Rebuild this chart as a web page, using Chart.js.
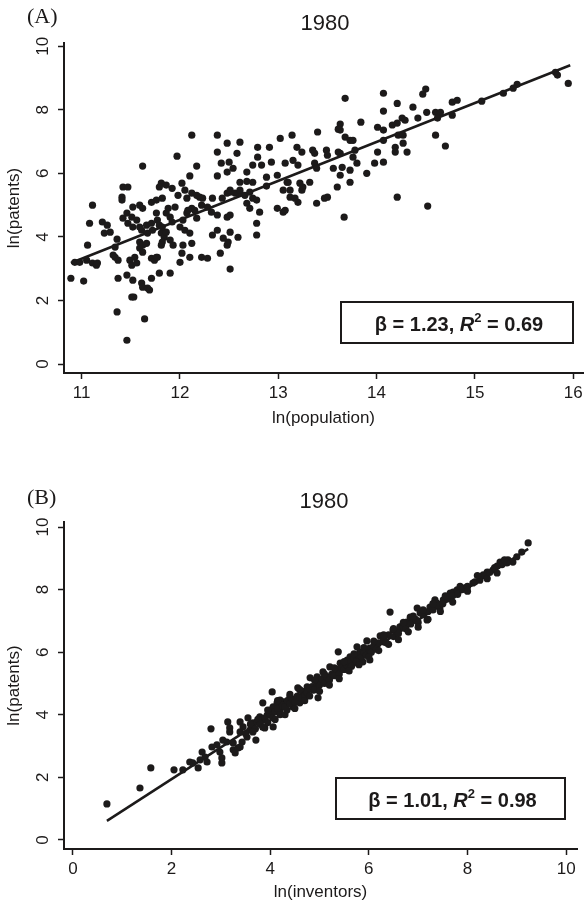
<!DOCTYPE html>
<html>
<head>
<meta charset="utf-8">
<script src="https://cdn.jsdelivr.net/npm/chart.js@4.4.1/dist/chart.umd.min.js"></script>
<style>
body { margin: 0; background: #fff; }
canvas { position: absolute; left: 0; }
#chartA { top: 0; }
#chartB { top: 453px; }
</style>
</head>
<body>
<canvas id="chartA" width="588" height="453"></canvas>
<canvas id="chartB" width="588" height="454"></canvas>
<script>
// panel A: ln(population) vs ln(patents), 1980
var popTicks = [11, 12, 13, 14, 15, 16];
var patentTicks = [0, 2, 4, 6, 8, 10];
var pointsA = [
  [12.12,7.2],[12.38,7.2],[12.48,6.95],[12.61,6.98],[12.38,6.67],[12.58,6.63],[11.97,6.54],[12.79,6.82],
  [12.79,6.51],[12.91,6.82],[13.02,7.1],[13.14,7.2],[13.19,6.82],[11.62,6.23],[12.17,6.23],[12.1,5.92],
  [12.38,5.92],[12.42,6.32],[12.5,6.35],[12.54,6.16],[12.48,6.04],[12.68,6.04],[12.74,6.26],[12.83,6.26],
  [12.93,6.35],[13.07,6.32],[13.15,6.41],[11.81,5.69],[11.92,5.53],[12.02,5.69],[11.42,5.57],[11.47,5.57],
  [11.41,5.25],[12.61,5.72],[12.68,5.75],[12.74,5.72],[12.88,5.88],[12.99,5.94],[13.09,5.72],[12.51,5.41],
  [12.61,5.38],[12.71,5.41],[12.12,5.38],[12.2,5.25],[12.33,5.22],
  [13.68,8.36],[14.07,8.52],[14.5,8.65],[14.47,8.49],[14.21,8.2],[14.07,7.96],[14.37,8.08],[14.51,7.92],
  [14.6,7.92],[14.65,7.92],[14.77,8.24],[14.82,8.3],[15.07,8.27],[15.29,8.52],[15.43,8.8],[15.39,8.68],
  [15.82,9.18],[15.84,9.09],[15.95,8.83],[13.63,7.55],[13.63,7.36],[13.84,7.61],[13.4,7.3],[13.61,7.39],
  [14.01,7.45],[14.07,7.36],[14.16,7.52],[14.21,7.58],[14.26,7.74],[14.29,7.67],[14.42,7.74],[14.62,7.74],
  [14.77,7.83],[14.6,7.2],[14.7,6.86],[13.68,7.14],[13.73,7.04],[13.76,7.04],[14.22,7.2],[14.27,7.2],
  [14.07,7.04],[14.19,6.82],[14.27,6.95],[14.31,6.67],[14.19,6.67],[13.24,6.67],[13.35,6.73],[13.37,6.63],
  [13.49,6.73],[13.5,6.57],[13.61,6.67],[13.63,6.63],[13.78,6.73],[13.76,6.51],[14.01,6.67],[13.2,6.26],
  [13.37,6.32],[13.39,6.16],[13.56,6.16],[13.65,6.19],[13.63,5.94],[13.73,6.1],[13.8,6.32],[13.73,5.72],
  [13.9,6.0],[13.98,6.32],[14.07,6.35],[13.1,5.72],[13.22,5.69],[13.24,5.47],[13.32,5.72],[13.6,5.57],
  [13.05,5.47],[13.5,5.25],[13.47,5.22],[14.21,5.25],[13.12,5.25],[13.2,5.09],[13.39,5.06],[13.05,4.78],
  [13.67,4.62],[14.52,4.97],[13.25,5.57],
  [10.89,2.7],[11.02,2.61],[11.06,3.74],[11.08,4.43],[11.11,5.0],[10.93,3.2],[10.98,3.2],[11.05,3.27],
  [11.11,3.18],[11.15,3.11],[11.16,3.18],[11.21,4.47],[11.26,4.37],[11.29,4.15],[11.23,4.12],[11.34,3.68],
  [11.34,3.36],[11.37,3.27],[11.32,3.43],[11.36,3.93],[11.37,2.7],[11.36,1.64],[11.46,0.75],[11.41,5.16],
  [11.46,4.75],[11.42,4.59],[11.47,4.43],[11.51,4.62],[11.52,4.31],[11.56,4.53],[11.49,3.27],[11.51,3.11],
  [11.54,3.36],[11.56,3.18],[11.46,2.8],[11.52,2.64],[11.51,2.11],[11.53,2.11],[11.61,2.55],[11.62,2.42],
  [11.67,2.39],[11.69,2.33],[11.64,1.42],[11.52,4.94],[11.59,5.0],[11.62,4.9],[11.59,4.31],[11.61,4.21],
  [11.66,4.37],[11.67,4.12],[11.71,4.43],[11.72,4.21],[11.59,3.84],[11.59,3.65],[11.62,3.74],[11.62,3.52],
  [11.66,3.8],[11.71,3.33],[11.74,3.27],[11.76,3.36],[11.71,2.7],[11.76,4.75],[11.77,4.53],[11.79,4.37],
  [11.81,4.12],[11.82,4.31],[11.84,3.99],[11.82,3.84],[11.81,3.74],[11.79,2.86],[11.77,3.36],[11.71,5.09],
  [11.76,5.16],[11.82,5.22],[11.79,5.57],[11.86,5.63],[11.86,4.75],[11.9,4.62],[11.88,4.9],[11.92,4.47],
  [11.95,4.94],[11.9,2.86],[11.86,4.15],[11.9,3.9],[11.93,3.74],[12.0,3.2],[12.02,3.49],[12.03,3.74],
  [12.0,4.31],[12.03,4.53],[12.05,4.21],[12.07,4.75],[11.98,5.31],[12.05,5.47],[12.07,5.22],[12.08,4.84],
  [12.12,4.9],[12.15,4.84],[12.17,4.59],[12.1,4.12],[12.12,3.8],[12.1,3.36],[12.17,5.31],[12.23,5.22],
  [12.22,5.0],[12.28,4.94],[12.32,4.78],[12.22,3.36],[12.28,3.33],[12.33,4.06],[12.38,4.21],[12.38,4.69],
  [12.41,3.49],[12.43,5.22],[12.48,5.38],[12.51,5.47],[12.56,5.38],[12.44,3.96],[12.48,3.74],[12.49,3.84],
  [12.51,4.15],[12.51,2.99],[12.48,4.62],[12.51,4.69],[12.59,3.99],[12.61,5.47],[12.66,5.31],[12.68,5.06],
  [12.71,4.9],[12.74,5.22],[12.78,5.16],[12.78,4.43],[12.78,4.06],[12.81,4.78],[12.88,5.6],[12.99,4.9],
  [13.07,4.84],[13.12,5.47],[13.17,5.22]
];
var fitA = [[10.89, 3.18], [15.97, 9.4]];
var statsA = { beta: '1.23', r2: '0.69' };

// panel B: ln(inventors) vs ln(patents), 1980
var invTicks = [0, 2, 4, 6, 8, 10];
var pointsB = [
  [0.69,1.15],[1.36,1.66],[1.58,2.3],[2.05,2.24],[2.23,2.24],[2.37,2.49],[2.43,2.46],[2.54,2.3],[2.58,2.56],
  [2.62,2.81],[2.68,2.65],[2.72,2.49],[2.8,3.55],[2.82,2.97],[2.92,3.04],[2.98,2.81],[3.02,2.62],[3.02,2.46],
  [3.04,3.19],[3.12,3.13],[3.14,3.77],[3.18,3.58],[3.18,3.45],[3.25,3.1],[3.25,2.88],[3.29,2.78],[3.35,2.94],
  [3.39,3.77],[3.39,3.45],[3.45,3.61],[3.53,3.29],[3.43,3.13],[3.39,2.97],[3.59,3.51],[3.65,3.74],[3.73,3.77],
  [3.79,3.93],[3.71,3.19],[3.85,3.83],[3.94,3.99],[4.0,4.15],[4.06,4.25],[3.85,4.38],[4.04,4.73],[3.89,3.58],
  [4.06,3.61],[4.14,4.38],[4.26,4.41],[4.4,4.57],[4.46,4.31],[4.56,4.86],[4.2,4.15],[4.34,4.15],
  [4.2,4.47],[4.34,4.38],[4.46,4.25],[4.6,4.38],[4.67,4.7],[4.75,4.89],[4.87,4.79],[4.95,5.02],[4.97,4.54],
  [5.07,5.11],[5.21,5.21],[5.31,5.34],[5.42,5.43],[5.56,5.5],[5.68,5.65],[5.82,5.75],[5.88,5.69],[6.02,5.75],
  [4.81,5.18],[4.95,5.21],[5.07,5.37],[5.21,5.53],[5.38,6.01],[5.42,5.65],[5.56,5.75],[5.62,5.85],[5.76,6.17],
  [5.82,6.01],[5.96,6.36],[6.02,6.13],[6.17,6.23],[6.23,6.52],[6.29,6.33],[6.43,7.28],[6.49,6.71],[6.57,6.61],
  [6.63,6.81],[6.69,6.87],[6.77,6.96],[6.84,7.12],[6.9,7.03],[6.98,7.41],[7.04,7.25],[7.1,7.28],[7.18,7.03],
  [7.24,7.44],[7.34,7.67],[7.38,7.57],[7.44,7.41],[7.51,7.67],[7.59,7.76],[7.65,7.89],[7.71,7.92],[7.79,7.99],
  [7.91,8.05],[7.99,8.08],[8.11,8.21],[8.26,8.4],[8.32,8.47],[8.4,8.56],[8.52,8.63],[8.6,8.53],[8.66,8.88],
  [8.72,8.85],[8.82,8.95],[8.92,8.88],[9.23,9.49],
  [3.6,3.7],[3.7,3.55],[3.75,3.85],[3.8,3.7],[3.9,3.9],[3.95,3.75],[4.0,4.0],[4.05,3.9],[4.1,4.1],[4.15,4.2],
  [4.2,4.0],[4.25,4.3],[4.3,4.25],[4.35,4.45],[4.4,4.35],[4.45,4.5],[4.5,4.4],[4.55,4.6],[4.6,4.55],[4.65,4.75],
  [4.7,4.6],[4.75,4.7],[4.8,4.85],[4.85,4.9],[4.9,4.8],[4.95,5.0],[5.0,4.95],[5.05,5.15],[5.1,5.0],[5.15,5.2],
  [5.2,5.1],[5.25,5.3],[5.3,5.25],[5.35,5.45],[5.4,5.3],[5.45,5.5],[5.5,5.45],[5.55,5.6],[5.6,5.7],[5.65,5.55],
  [5.7,5.8],[5.75,5.7],[5.8,5.9],[5.85,5.85],[5.9,6.0],[5.95,5.9],[6.0,6.1],[6.05,6.0],[6.1,6.2],[6.15,6.1],
  [6.2,6.3],[6.3,6.4],[6.35,6.3],[6.4,6.55],[6.5,6.5],[6.55,6.65],[6.6,6.6],[6.7,6.8],[6.75,6.75],[6.85,6.9],
  [6.95,7.05],[7.0,6.95],[7.1,7.2],[7.2,7.3],[7.3,7.35],[7.4,7.5],[7.5,7.55],[7.6,7.7],[7.7,7.8],[7.8,7.85],
  [7.9,8.0],[8.0,8.1],[8.15,8.25],[8.25,8.3],[8.35,8.45],[8.45,8.55],[8.55,8.7],[8.7,8.8],[8.8,8.85],[9.0,9.05],
  [9.1,9.2],
  [3.5,3.4],[3.55,3.9],[3.65,3.45],[3.85,3.6],[3.95,4.15],[4.1,3.85],[4.15,4.45],[4.3,4.0],[4.4,4.65],[4.5,4.2],
  [4.6,4.8],[4.7,4.45],[4.8,4.6],[4.9,5.1],[5.0,4.75],[5.1,5.3],[5.2,4.95],[5.3,5.5],[5.4,5.15],[5.5,5.7],
  [5.6,5.4],[5.7,5.95],[5.8,5.6],[5.9,6.15],[6.0,5.85],[6.1,6.35],[6.2,6.05],[6.3,6.55],[6.4,6.25],[6.5,6.75],
  [6.6,6.4],[6.7,6.95],[6.8,6.65],[6.9,7.15],[7.0,6.8],[7.1,7.35],[7.2,7.05],[7.3,7.55],[7.45,7.3],[7.55,7.8],
  [7.7,7.6],[7.85,8.1],[8.0,7.95],[8.2,8.45],[8.4,8.35],[8.6,8.75],[8.75,8.95]
];
var fitB = [[0.69, 0.61], [9.23, 9.3]];
var statsB = { beta: '1.01', r2: '0.98' };

var ink = '#1c1a1a';
var sans = '"Liberation Sans", Arial, Helvetica, sans-serif';
Chart.defaults.font.family = sans;
Chart.defaults.color = ink;

function toXY(list) {
  return list.map(function (p) { return { x: p[0], y: p[1] }; });
}

// letter, year, rotated y tick labels and the stats box
var decor = {
  id: 'decor',
  afterDraw: function (chart) {
    var o = chart.options.plugins.decor;
    var ctx = chart.ctx, area = chart.chartArea, ys = chart.scales.y;
    ctx.save();
    ctx.fillStyle = ink;
    ctx.textBaseline = 'alphabetic';

    ctx.font = '22px "Liberation Serif", "Times New Roman", serif';
    ctx.textAlign = 'left';
    ctx.fillText(o.letter, 27, o.letterY);

    ctx.font = '22px ' + sans;
    ctx.textAlign = 'center';
    ctx.fillText('1980', o.yearX, o.yearY);

    ctx.font = '17px ' + sans;
    ys.ticks.forEach(function (t) {
      var py = ys.getPixelForValue(t.value);
      ctx.save();
      ctx.translate(48, py);
      ctx.rotate(-Math.PI / 2);
      ctx.fillText(String(t.value), 0, 0);
      ctx.restore();
    });

    var bw = o.boxW, bh = 41;
    var bx = area.right - o.boxRight - bw, by = area.bottom - 30 - bh;
    ctx.strokeStyle = ink;
    ctx.lineWidth = 2;
    ctx.strokeRect(bx, by, bw, bh);

    var parts = [
      { t: '\u03b2 = ' + o.stats.beta + ', ', f: 'bold 20px ' + sans, dy: 0 },
      { t: 'R', f: 'italic bold 20px ' + sans, dy: 0 },
      { t: '2', f: 'bold 13px ' + sans, dy: -9 },
      { t: ' = ' + o.stats.r2, f: 'bold 20px ' + sans, dy: 0 }
    ];
    var total = 0;
    parts.forEach(function (p) { ctx.font = p.f; p.w = ctx.measureText(p.t).width; total += p.w; });
    var tx = bx + bw / 2 - total / 2 + 2, base = by + 29;
    ctx.textAlign = 'left';
    parts.forEach(function (p) {
      ctx.font = p.f;
      ctx.fillText(p.t, tx, base + p.dy);
      tx += p.w;
    });
    ctx.restore();
  }
};

function axis(min, max, ticks, title, horiz, size, titlePad) {
  return {
    type: 'linear',
    min: min,
    max: max,
    afterBuildTicks: function (s) { s.ticks = ticks.map(function (v) { return { value: v }; }); },
    afterFit: function (s) { if (horiz) s.height = size; else s.width = size; },
    border: { display: true, color: ink, width: 2 },
    grid: { display: true, drawOnChartArea: false, drawTicks: true, tickLength: 6, tickColor: ink, tickWidth: 1.5 },
    ticks: {
      autoSkip: false,
      maxRotation: 0,
      padding: 4,
      color: horiz ? ink : 'rgba(0,0,0,0)',
      font: { size: 17 }
    },
    title: { display: true, text: title, color: ink, font: { size: 17 }, padding: titlePad }
  };
}

function panel(id, pts, fit, xr, yr, xt, xTitle, pad, xH, titleBottom, decorOpts) {
  return new Chart(document.getElementById(id), {
    type: 'scatter',
    data: {
      datasets: [{
        data: toXY(pts),
        pointRadius: 3.6,
        pointBorderWidth: 0,
        backgroundColor: ink
      }, {
        type: 'line',
        data: toXY(fit),
        borderColor: ink,
        borderWidth: 2.5,
        pointRadius: 0,
        fill: false
      }]
    },
    options: {
      responsive: false,
      animation: false,
      layout: { padding: pad },
      plugins: { legend: { display: false }, tooltip: { enabled: false }, decor: decorOpts },
      scales: {
        x: axis(xr[0], xr[1], xt, xTitle, true, xH, { bottom: titleBottom }),
        y: axis(yr[0], yr[1], patentTicks, 'ln(patents)', false, 64, { top: 4 })
      }
    },
    plugins: [decor]
  });
}

panel('chartA', pointsA, fitA, [10.82, 16.1], [-0.28, 10.1], popTicks, 'ln(population)',
  { left: 0, top: 43, right: 5, bottom: 0 }, 80, 24,
  { letter: '(A)', letterY: 23, yearX: 325, yearY: 30, stats: statsA, boxW: 232, boxRight: 10 });

panel('chartB', pointsB, fitB, [-0.18, 10.22], [-0.29, 10.16], invTicks, 'ln(inventors)',
  { left: 0, top: 69, right: 11, bottom: 0 }, 58, 4,
  { letter: '(B)', letterY: 51, yearX: 324, yearY: 55, stats: statsB, boxW: 229, boxRight: 12 });
</script>
</body>
</html>
